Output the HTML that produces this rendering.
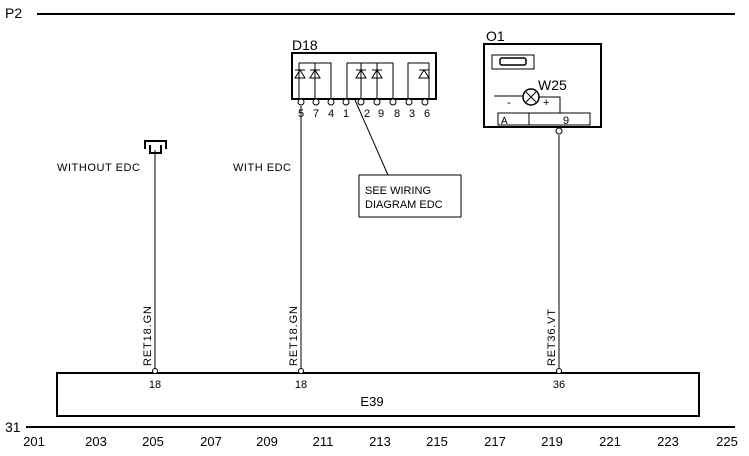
<!DOCTYPE html>
<html><head><style>
html,body{margin:0;padding:0;background:#fff;}
svg{display:block;font-family:"Liberation Sans",Arial,sans-serif;}
</style></head><body>
<svg width="749" height="456" viewBox="0 0 749 456" xmlns="http://www.w3.org/2000/svg">
<g stroke="#000" fill="none">
<line x1="37" y1="14" x2="735" y2="14" stroke-width="2"/>
<line x1="26" y1="427" x2="735" y2="427" stroke-width="2"/>
<rect x="57" y="373" width="642" height="43" stroke-width="2"/>
<line x1="155" y1="150" x2="155" y2="369"/>
<line x1="301" y1="106" x2="301" y2="369"/>
<line x1="559" y1="135" x2="559" y2="369"/>
<circle cx="155" cy="371" r="2.5" fill="#fff"/>
<circle cx="301" cy="371" r="2.5" fill="#fff"/>
<circle cx="559" cy="371" r="2.5" fill="#fff"/>
<path d="M145 149 V141 H166 V149" stroke-width="2"/>
<path d="M150 145 V153 H161 V145" stroke-width="2"/>
<rect x="292" y="53" width="144" height="46" stroke-width="2"/>
<path d="M299 100 V63 H331 V100"/>
<line x1="315" y1="63" x2="315" y2="100"/>
<path d="M347 100 V63 H393 V100"/>
<line x1="377" y1="63" x2="377" y2="100"/>
<line x1="361" y1="63" x2="361" y2="100"/>
<path d="M408 100 V63 H429 V100"/>
<g fill="#fff">
<circle cx="301" cy="102" r="3"/><circle cx="316" cy="102" r="3"/><circle cx="331" cy="102" r="3"/>
<circle cx="346" cy="102" r="3"/><circle cx="361" cy="102" r="3"/><circle cx="377" cy="102" r="3"/>
<circle cx="393" cy="102" r="3"/><circle cx="409" cy="102" r="3"/><circle cx="425" cy="102" r="3"/>
</g>
<g stroke-width="1">
<path d="M295 78 L300 70 L305 78 Z M295 70 H305"/>
<path d="M310 78 L315 70 L320 78 Z M310 70 H320"/>
<path d="M356 78 L361 70 L366 78 Z M356 70 H366"/>
<path d="M372 78 L377 70 L382 78 Z M372 70 H382"/>
<path d="M419 78 L424 70 L429 78 Z M419 70 H429"/>
</g>
<line x1="355" y1="100" x2="388" y2="175"/>
<rect x="359" y="175" width="102" height="42"/>
<rect x="484" y="44" width="117" height="83" stroke-width="2"/>
<rect x="492" y="55" width="42" height="14"/>
<rect x="500" y="58" width="26" height="7" rx="2" stroke-width="1.5"/>
<line x1="494" y1="96" x2="523" y2="96"/>
<circle cx="531" cy="97" r="8" stroke-width="1.5"/>
<line x1="526" y1="92" x2="536" y2="102"/><line x1="536" y1="92" x2="526" y2="102"/>
<path d="M539 97 H560 V113"/>
<rect x="498" y="113" width="92" height="12"/>
<line x1="529" y1="113" x2="529" y2="125"/>
<circle cx="559" cy="131" r="3" fill="#fff"/>
</g>
<g font-size="11" fill="#000">
<text x="5" y="18" font-size="14">P2</text>
<text x="5" y="432" font-size="14">31</text>
<text x="292" y="50" font-size="14">D18</text>
<text x="486" y="41" font-size="14">O1</text>
<text x="538" y="90" font-size="14">W25</text>
<text x="507" y="106">-</text>
<text x="543" y="106">+</text>
<text x="501" y="124" font-size="10">A</text>
<text x="563" y="124" font-size="11">9</text>
<text x="57" y="171" font-size="11" textLength="83">WITHOUT EDC</text>
<text x="233" y="171" font-size="11" textLength="58">WITH EDC</text>
<text x="365" y="194" font-size="11">SEE WIRING</text>
<text x="365" y="208" font-size="11">DIAGRAM EDC</text>
<g font-size="11"><text x="298" y="117">5</text><text x="313" y="117">7</text><text x="328" y="117">4</text><text x="343" y="117">1</text><text x="364" y="117">2</text><text x="378" y="117">9</text><text x="394" y="117">8</text><text x="409" y="117">3</text><text x="424" y="117">6</text></g>
<g font-size="11" text-anchor="middle"><text x="155" y="388">18</text><text x="301" y="388">18</text><text x="559" y="388">36</text></g>
<text x="372" y="406" font-size="13" text-anchor="middle">E39</text>
<g font-size="11"><text transform="translate(151,366) rotate(-90)" textLength="60">RET18.GN</text><text transform="translate(297,366) rotate(-90)" textLength="60">RET18.GN</text><text transform="translate(555,366) rotate(-90)" textLength="57">RET36.VT</text></g>
<g font-size="13" text-anchor="middle"><text x="34" y="446">201</text><text x="96" y="446">203</text><text x="153" y="446">205</text><text x="211" y="446">207</text><text x="267" y="446">209</text><text x="323" y="446">211</text><text x="380" y="446">213</text><text x="437" y="446">215</text><text x="495" y="446">217</text><text x="552" y="446">219</text><text x="610" y="446">221</text><text x="668" y="446">223</text><text x="727" y="446">225</text></g>
</g>
</svg>
</body></html>
